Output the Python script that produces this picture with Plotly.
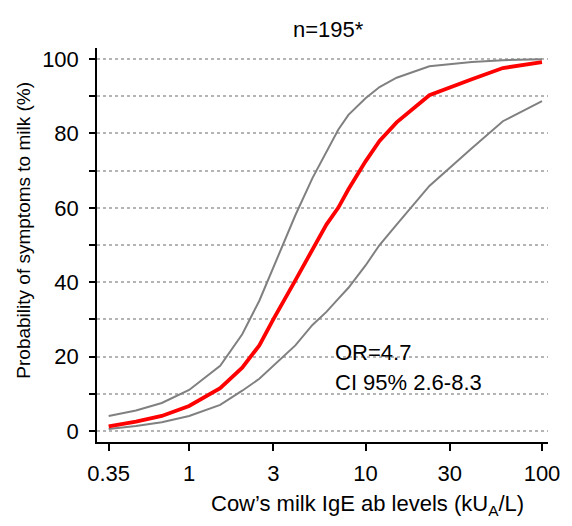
import plotly.graph_objects as go

# IgE levels (kUA/L) and predicted probabilities (%)
ige_levels = [0.35, 0.5, 0.7, 1, 1.5, 2, 2.5, 3, 4, 5, 6, 7, 8, 10, 12, 15, 23, 40, 60, 100]
prob_fit = [1.2, 2.5, 4.0, 6.7, 11.5, 17, 23, 30, 40.5, 49, 55.5, 60, 65, 72.5, 78, 83, 90.3, 94.6, 97.6, 99.2]
prob_upper = [4.0, 5.5, 7.5, 11, 17.5, 26, 35, 44, 58, 68, 75, 81, 85, 89.5, 92.5, 95, 98.1, 99.2, 99.7, 100]
prob_lower = [0.5, 1.3, 2.3, 4.0, 7.0, 10.8, 14, 17.5, 23, 28.5, 32, 35.5, 38.5, 44.5, 50, 55.5, 65.9, 76, 83.3, 88.7]

x_tickvals = [0.35, 1, 3, 10, 30, 100]
x_ticktext = ["0.35", "1", "3", "10", "30", "100"]
y_tickvals = [0, 10, 20, 30, 40, 50, 60, 70, 80, 90, 100]
y_ticktext = ["0", "", "20", "", "40", "", "60", "", "80", "", "100"]

FONT = "Liberation Sans, Arial, sans-serif"
FS = 22

fig = go.Figure()
for ys in (prob_upper, prob_lower):
    fig.add_trace(go.Scatter(x=ige_levels, y=ys, mode="lines",
                             line=dict(color="#808080", width=2), showlegend=False))
fig.add_trace(go.Scatter(x=ige_levels, y=prob_fit, mode="lines",
                         line=dict(color="#ff0000", width=3.8), showlegend=False))

# page body adds 8px margin, so the figure is 8px smaller and shifted
fig.update_layout(
    width=564, height=518,
    margin=dict(l=89, r=20, t=40, b=84),
    paper_bgcolor="white", plot_bgcolor="white",
    font=dict(family=FONT, size=FS, color="black"),
)
fig.update_xaxes(
    type="log", range=[-0.522, 2.034],
    tickvals=x_tickvals, ticktext=x_ticktext, tickfont=dict(size=FS),
    ticks="outside", ticklen=7, tickwidth=1.5, tickcolor="black", ticklabelstandoff=4,
    ticklabeloverflow="allow",
    showline=True, linecolor="black", linewidth=1.5,
    showgrid=False, zeroline=False,
)
fig.update_yaxes(
    range=[-3, 103],
    tickvals=y_tickvals, ticktext=y_ticktext, tickfont=dict(size=FS),
    ticks="outside", ticklen=6, tickwidth=1.5, tickcolor="black", ticklabelstandoff=6,
    showline=True, linecolor="black", linewidth=1.5,
    showgrid=True, gridcolor="#b4b4b4", griddash="dot", gridwidth=1.5,
    zeroline=False,
)

# title, axis titles and OR annotation
fig.add_annotation(x=(331 - 97) / 455, y=(442 - 30) / 394, xref="paper", yref="paper",
                   xanchor="center", yanchor="middle",
                   text="n=195*", showarrow=False, font=dict(size=FS))
fig.add_annotation(x=(22 - 97) / 455, y=(442 - 230) / 394, xref="paper", yref="paper",
                   xanchor="center", yanchor="middle", textangle=-90,
                   text="Probability of symptoms to milk (%)", showarrow=False, font=dict(size=19))
fig.add_annotation(x=(370 - 97) / 455, y=(442 - 505) / 394, xref="paper", yref="paper",
                   xanchor="center", yanchor="middle",
                   text="Cow\u2019s milk IgE ab levels (kU<sub>A</sub>/L)", showarrow=False,
                   font=dict(size=FS))
fig.add_annotation(x=0.815, y=21.2, xref="x", yref="y", xanchor="left", yanchor="middle",
                   text="OR=4.7", showarrow=False, font=dict(size=FS))
fig.add_annotation(x=0.815, y=12.9, xref="x", yref="y", xanchor="left", yanchor="middle",
                   text="CI 95% 2.6-8.3", showarrow=False, font=dict(size=FS))

fig.write_html("out.html")
